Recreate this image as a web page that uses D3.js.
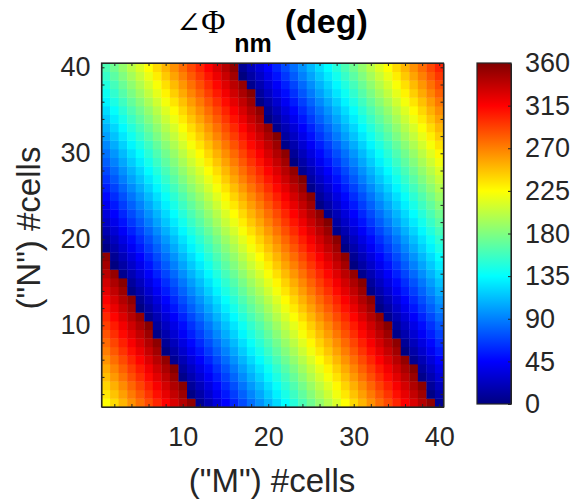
<!DOCTYPE html>
<html>
<head>
<meta charset="utf-8">
<script src="https://cdn.jsdelivr.net/npm/d3@7"></script>
<style>
  body { margin: 0; background: #fff; }
  svg text { font-family: "Liberation Sans", Arial, Helvetica, sans-serif; fill: #262626; }
  .axis path, .axis line { stroke: #262626; }
</style>
</head>
<body>
<svg id="chart" width="574" height="500"></svg>
<script>
// cells along each side
var M = d3.range(1, 41),
    N = d3.range(1, 41);
var phaseRowN1 = [225, 238, 251, 264, 276, 289, 302, 315, 328, 341,
                  354, 6, 19, 32, 45, 58, 71, 84, 96, 109,
                  122, 135, 148, 161, 174, 187, 199, 212, 225, 238,
                  251, 264, 277, 289, 302, 315, 328, 341, 354, 7];
// extra phase (deg) added going up the rows, n = 1..40
var phaseShiftN = [0, 8, 15, 23, 30, 38, 46, 53, 61, 68,
                   76, 84, 91, 99, 106, 114, 122, 129, 137, 144,
                   152, 160, 167, 175, 182, 190, 198, 205, 213, 220,
                   228, 236, 243, 251, 258, 266, 274, 281, 289, 296];
var axisTicks = [10, 20, 30, 40];
var cbarTicks = [0, 45, 90, 135, 180, 225, 270, 315, 360];

var cells = [];
N.forEach(function(n, j) {
  M.forEach(function(m, i) {
    cells.push({m: m, n: n, v: (phaseRowN1[i] + phaseShiftN[j]) % 360});
  });
});

function jet(t) {
  function c(v) { return Math.max(0, Math.min(1, v)); }
  var r = c(1.5 - Math.abs(4 * t - 3)),
      g = c(1.5 - Math.abs(4 * t - 2)),
      b = c(1.5 - Math.abs(4 * t - 1));
  return d3.rgb(r * 255, g * 255, b * 255).toString();
}

var svg = d3.select("#chart");
var pL = 101.5, pR = 443.5, pT = 63, pB = 407;

var x = d3.scaleLinear().domain([0.5, 40.5]).range([pL, pR]);
var y = d3.scaleLinear().domain([0.5, 40.5]).range([pB, pT]);
var color = d3.scaleSequential(jet).domain([0, 360]);

svg.append("g").selectAll("rect")
  .data(cells)
  .enter().append("rect")
    .attr("x", function(d) { return x(d.m - 0.5); })
    .attr("y", function(d) { return y(d.n + 0.5); })
    .attr("width", function(d) { return x(d.m + 0.5) - x(d.m - 0.5) + 0.4; })
    .attr("height", function(d) { return y(d.n - 0.5) - y(d.n + 0.5) + 0.4; })
    .attr("fill", function(d) { return color(d.v); });

var minor = d3.range(2, 41, 2);
function fmt(d) { return axisTicks.indexOf(d) >= 0 ? d : ""; }

svg.append("g")
  .attr("class", "axis")
  .attr("transform", "translate(0," + pB + ")")
  .call(d3.axisBottom(x).tickValues(minor).tickFormat(fmt).tickSizeInner(-3).tickSizeOuter(0).tickPadding(20))
  .call(function(g) { g.selectAll("text").attr("font-size", 27).attr("font-family", null); });

svg.append("g")
  .attr("class", "axis")
  .attr("transform", "translate(" + pL + ",0)")
  .call(d3.axisLeft(y).tickValues(minor).tickFormat(fmt).tickSizeInner(-3).tickSizeOuter(0).tickPadding(11))
  .call(function(g) { g.selectAll("text").attr("font-size", 27).attr("font-family", null); });

svg.append("g")
  .attr("class", "axis")
  .attr("transform", "translate(0," + pT + ")")
  .call(d3.axisTop(x).tickValues(minor).tickFormat("").tickSizeInner(-3).tickSizeOuter(0));

svg.append("g")
  .attr("class", "axis")
  .attr("transform", "translate(" + pR + ",0)")
  .call(d3.axisRight(y).tickValues(minor).tickFormat("").tickSizeInner(-3).tickSizeOuter(0));

svg.append("rect")
  .attr("x", pL).attr("y", pT)
  .attr("width", pR - pL).attr("height", pB - pT)
  .attr("fill", "none").attr("stroke", "#262626").attr("stroke-width", 1.2);

// colorbar
var cbL = 477, cbR = 511, cbT = 63, cbB = 404;
var cy = d3.scaleLinear().domain([0, 360]).range([cbB, cbT]);
var grad = svg.append("defs").append("linearGradient")
  .attr("id", "jetgrad").attr("x1", 0).attr("y1", 1).attr("x2", 0).attr("y2", 0);
d3.range(0, 1.0001, 0.125).forEach(function(t) {
  grad.append("stop").attr("offset", t).attr("stop-color", jet(t));
});
svg.append("rect")
  .attr("x", cbL).attr("y", cbT)
  .attr("width", cbR - cbL).attr("height", cbB - cbT)
  .attr("fill", "url(#jetgrad)");

svg.append("g")
  .attr("class", "axis")
  .attr("transform", "translate(" + cbR + ",0)")
  .call(d3.axisRight(cy).tickValues(cbarTicks).tickSizeInner(-3).tickSizeOuter(0).tickPadding(14))
  .call(function(g) { g.selectAll("text").attr("font-size", 27).attr("font-family", null); });

svg.append("rect")
  .attr("x", cbL).attr("y", cbT)
  .attr("width", cbR - cbL).attr("height", cbB - cbT)
  .attr("fill", "none").attr("stroke", "#262626").attr("stroke-width", 1.2);

// labels
svg.append("text")
  .attr("x", (pL + pR) / 2 - 0.5).attr("y", 492)
  .attr("text-anchor", "middle").attr("font-size", 33)
  .text('("M") #cells');

svg.append("text")
  .attr("transform", "translate(40,228) rotate(-90)")
  .attr("text-anchor", "middle").attr("font-size", 33)
  .text('("N") #cells');

var title = svg.append("text").attr("x", 176).attr("y", 33);
title.append("tspan").attr("font-family", "'DejaVu Serif', 'Liberation Serif', serif").attr("font-size", 30).style("fill", "#000").text("∠");
title.append("tspan").attr("font-family", "'Liberation Serif', 'Times New Roman', serif").attr("font-size", 33).style("fill", "#000").text("Φ");
title.append("tspan").attr("dx", 9).attr("dy", 19).attr("font-weight", "bold").attr("font-size", 25).style("fill", "#000").text("nm");
title.append("tspan").attr("dx", 13).attr("dy", -19).attr("font-weight", "bold").attr("font-size", 34).style("fill", "#000").text("(deg)");
</script>
</body>
</html>
